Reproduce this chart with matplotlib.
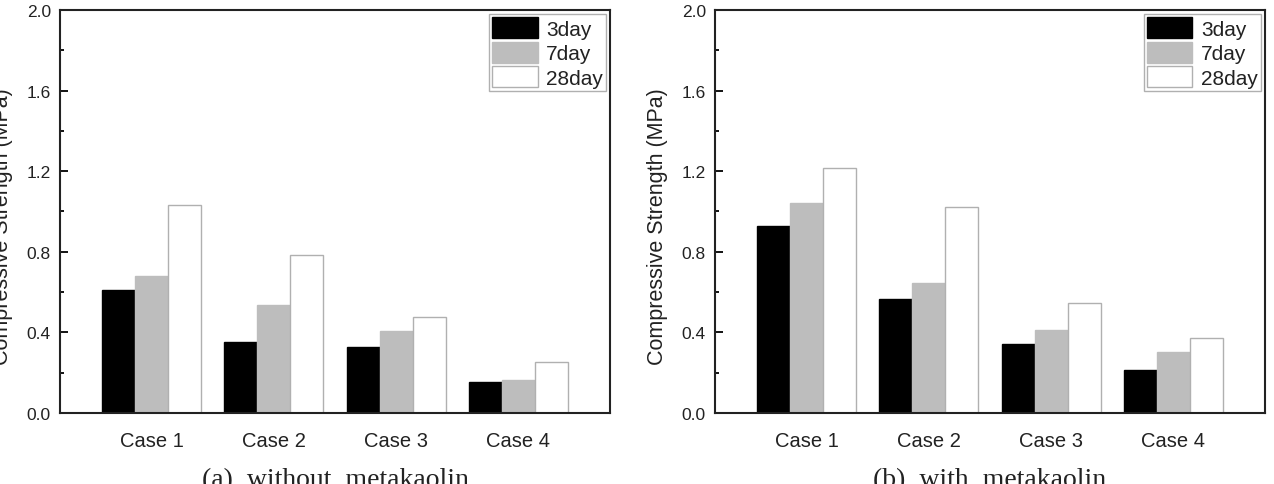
import numpy as np
import matplotlib
matplotlib.use("Agg")
import matplotlib.pyplot as plt
from matplotlib.ticker import MultipleLocator
from matplotlib.transforms import blended_transform_factory

plt.rcParams["font.family"] = ["Liberation Sans", "DejaVu Sans"]

cases = ["Case 1", "Case 2", "Case 3", "Case 4"]
ages = ["3day", "7day", "28day"]

# compressive strength (MPa)
without_mk = {
    "3day": [0.61, 0.35, 0.33, 0.155],
    "7day": [0.68, 0.535, 0.405, 0.163],
    "28day": [1.03, 0.785, 0.475, 0.252],
}
with_mk = {
    "3day": [0.93, 0.568, 0.34, 0.211],
    "7day": [1.04, 0.647, 0.413, 0.305],
    "28day": [1.215, 1.024, 0.547, 0.37],
}
captions = ["(a)  without  metakaolin", "(b)  with  metakaolin"]

face = {"3day": "black", "7day": "#bdbdbd", "28day": "white"}
edge = {"3day": "black", "7day": "#bdbdbd", "28day": "#b0b0b0"}

W, H = 1274, 485
fig = plt.figure(figsize=(W / 100, H / 100), dpi=100)

ax_left_px = [60, 715]
ax_w, ax_top, ax_bot = 550, 11, 414

x = np.arange(1, len(cases) + 1)
width = 0.27

for i, data in enumerate([without_mk, with_mk]):
    ax = fig.add_axes([ax_left_px[i] / W, (H - ax_bot) / H,
                       ax_w / W, (ax_bot - ax_top) / H])
    for j, age in enumerate(ages):
        ax.bar(x + (j - 1) * width, data[age], width, color=face[age],
               edgecolor=edge[age], linewidth=1, label=age)

    ax.set_xlim(0.25, 4.75)
    ax.set_ylim(0, 2.0)
    ax.set_xticks(x)
    ax.set_xticklabels(cases, fontsize=14.5, color="#222222")
    ax.tick_params(axis="x", length=0, pad=13)
    ax.yaxis.set_major_locator(MultipleLocator(0.4))
    ax.yaxis.set_minor_locator(MultipleLocator(0.2))
    ax.yaxis.set_major_formatter(plt.FormatStrFormatter("%.1f"))
    ax.tick_params(axis="y", which="major", direction="in", length=5.8,
                   width=1.3, pad=6.5, labelsize=12.5, labelcolor="#222222")
    ax.tick_params(axis="y", which="minor", direction="in", length=2.9,
                   width=1.3)
    for s in ax.spines.values():
        s.set_linewidth(1.5)
        s.set_color("#222222")

    ax.set_ylabel("Compressive Strength (MPa)", fontsize=15.5,
                  color="#222222")
    ax.yaxis.set_label_coords(-0.085, 0.464)

    leg = ax.legend(loc="upper right", fontsize=15, handlelength=2.2,
                    handleheight=1.17, labelspacing=0.14, borderpad=0.15,
                    handletextpad=0.4, borderaxespad=0.2, fancybox=False,
                    framealpha=1)
    leg.get_frame().set_edgecolor("#b0b0b0")
    leg.get_frame().set_linewidth(1)
    for t in leg.get_texts():
        t.set_color("#222222")

    tr = blended_transform_factory(ax.transAxes, fig.transFigure)
    ax.text(0.5, 1 - 487 / H, captions[i], transform=tr, ha="center",
            va="baseline", fontsize=20, family="Liberation Serif",
            color="#222222", clip_on=False)

fig.savefig("out.png", dpi=100)
